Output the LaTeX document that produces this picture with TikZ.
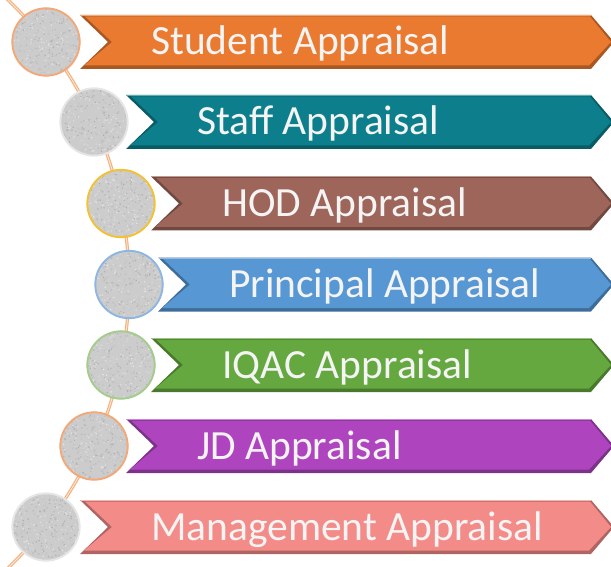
\documentclass[tikz,border=0pt]{standalone}
\usepackage{fontspec}
\setmainfont{Carlito}
\definecolor{cStu}{HTML}{EA7A30}
\definecolor{cSta}{HTML}{0D7F8C}
\definecolor{cHod}{HTML}{9E655A}
\definecolor{cPri}{HTML}{5797D4}
\definecolor{cIqa}{HTML}{64A83F}
\definecolor{cJd}{HTML}{AE45BE}
\definecolor{cMan}{HTML}{F38C88}
\definecolor{bOra}{HTML}{F2A878}
\definecolor{bNone}{HTML}{E6E6E6}
\definecolor{bGold}{HTML}{F2C234}
\definecolor{bBlue}{HTML}{8DB6E2}
\definecolor{bGreen}{HTML}{A3CD8A}
\definecolor{lineO}{HTML}{F2B07E}
\definecolor{lineI}{HTML}{FBE3D0}
\definecolor{lbltext}{HTML}{F4F4F4}
\tikzset{
  bub/.style={circle, minimum size=68pt, inner sep=0pt, fill=gray!40},
  lbl/.style={anchor=base west, text=lbltext, font=\fontsize{41.5}{46}\selectfont, inner sep=0pt},
}
\begin{document}
\begin{tikzpicture}[x=1pt,y=-1pt]
\useasboundingbox (0,0) rectangle (611,567);
\clip (0,0) rectangle (611,567);
% spine
\draw[color=lineO, line width=3.2pt] plot[domain=-48:48,samples=90] ({-265+394*cos(\x)},{284+394*sin(\x)});
\draw[color=lineI, line width=1pt] plot[domain=-48:48,samples=90] ({-265+394*cos(\x)},{284+394*sin(\x)});
\pgfmathsetseed{7}
\foreach \cy/\cx/\L/\col/\bcol/\txt/\n in {
  42/46/80/cStu/bOra/Student Appraisal/1,
  122/94/126/cSta/bNone/Staff Appraisal/2,
  203.5/121/151/cHod/bGold/HOD Appraisal/3,
  284.5/129/158/cPri/bBlue/Principal Appraisal/4,
  365/121/151/cIqa/bGreen/IQAC Appraisal/5,
  446/94/126/cJd/bOra/JD Appraisal/6,
  527/46/80/cMan/bNone/Management Appraisal/7}{
  % chevron with bevel
  \fill[\col!72!black] (\L,\cy-27) -- (591,\cy-27) -- (614,\cy) -- (591,\cy+27) -- (\L,\cy+27) -- (\L+28,\cy) -- cycle;
  \fill[\col] (\L+5,\cy-25.5) -- (590,\cy-25.5) -- (611,\cy) -- (589,\cy+23.5) -- (\L+4,\cy+23.5) -- (\L+32,\cy) -- cycle;
  \draw[\col!65!white, line width=1pt] (\L+1,\cy-26.5) -- (591,\cy-26.5);
  % bubble
  \node[bub, draw=\bcol, line width=1.3pt] (c\n) at (\cx,\cy) {};
  \begin{scope}
    \clip (\cx,\cy) circle (33.4pt);
    \foreach \k in {1,...,420}{
      \pgfmathsetmacro\rx{\cx+34*rand}
      \pgfmathsetmacro\ry{\cy+34*rand}
      \pgfmathtruncatemacro\g{20+45*rnd}
      \fill[gray!\g] (\rx,\ry) circle (0.85pt);
    }
  \end{scope}
  \draw[\bcol, line width=1.3pt] (c\n) circle (33.4pt);
  % label
  \node[lbl] (t\n) at (\L+71,\cy+13) {\txt};
}
\end{tikzpicture}
\end{document}
